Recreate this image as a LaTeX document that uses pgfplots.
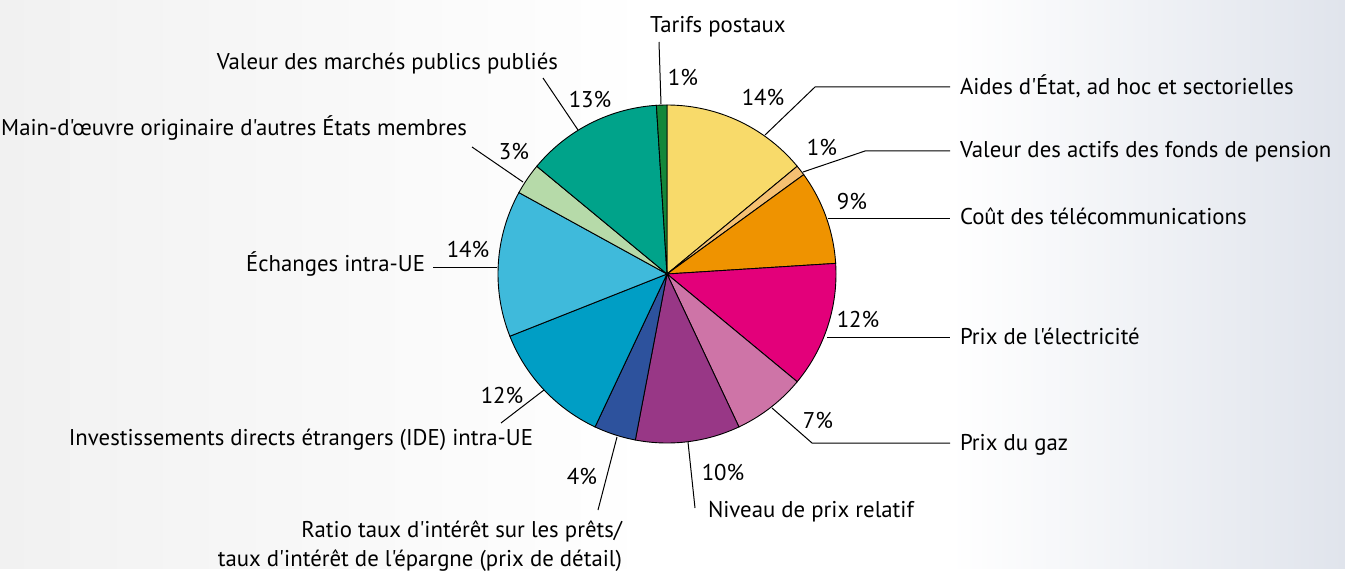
\documentclass[border=0pt]{standalone}
\usepackage{pgfplots}
\pgfplotsset{compat=1.18}
\usepackage{pgfplotstable}
\usepackage{fontspec}
\setmainfont{PT Sans}[Ligatures=TeXOff]

\definecolor{cA}{HTML}{F8DA6A}
\definecolor{cB}{HTML}{F5C072}
\definecolor{cC}{HTML}{EF9300}
\definecolor{cD}{HTML}{E3007A}
\definecolor{cE}{HTML}{CE74A7}
\definecolor{cF}{HTML}{983786}
\definecolor{cG}{HTML}{2D529D}
\definecolor{cH}{HTML}{009EC5}
\definecolor{cI}{HTML}{3FBADB}
\definecolor{cJ}{HTML}{B6DAA9}
\definecolor{cK}{HTML}{00A38A}
\definecolor{cL}{HTML}{13873A}
\definecolor{bgL}{HTML}{F1F1F1}
\definecolor{bgR}{HTML}{E0E4EC}

\tikzset{lbl/.style={font=\fontsize{11.4}{13}\selectfont, inner sep=0pt, outer sep=0pt}}

% shares in %, clockwise from 12 o'clock
\pgfplotstableread{
value col
14 cA
1 cB
9 cC
12 cD
7 cE
10 cF
4 cG
12 cH
14 cI
3 cJ
13 cK
1 cL
}\piedata

\begin{document}
\fontsize{11.4}{13}\selectfont
\begin{tikzpicture}
\begin{axis}[
  scale only axis, width=672.5pt, height=284pt,
  xmin=0, xmax=1345, ymin=0, ymax=568, y dir=reverse,
  hide axis, clip=false,
]
\shade[left color=bgL, right color=white] (0,0) rectangle (650,568);
\fill[white] (649,0) rectangle (951,568);
\shade[left color=white, right color=bgR] (950,0) rectangle (1345,568);

\def\cum{0}
\pgfplotsforeachungrouped \i in {0,...,11}{%
  \pgfplotstablegetelem{\i}{value}\of\piedata
  \let\val\pgfplotsretval
  \pgfplotstablegetelem{\i}{col}\of\piedata
  \let\col\pgfplotsretval
  \pgfmathsetmacro\angA{\cum*3.6}%
  \pgfmathsetmacro\angB{(\cum+\val)*3.6}%
  \pgfmathsetmacro\cum{\cum+\val}%
  \edef\doslice{\noexpand\addplot[draw=black, line width=0.45pt, fill=\col, mark=none, domain=\angA:\angB, samples=61] ({667+169*sin(x)},{274-169*cos(x)}) -- (667,274) -- cycle;}%
  \doslice
}

% leader lines
\draw[line width=0.5pt] (765,135) -- (815,87) -- (950,87);
\draw[line width=0.5pt] (803,172) -- (865,151) -- (950,151);
\draw[line width=0.5pt] (828,218) -- (950,218);
\draw[line width=0.5pt] (827,337) -- (950,337);
\draw[line width=0.5pt] (772,408) -- (812,443) -- (950,443);
\draw[line width=0.5pt] (688,442) -- (695,508);
\draw[line width=0.5pt] (617,437) -- (598,510);
\draw[line width=0.5pt] (544,390) -- (501,423);
\draw[line width=0.5pt] (497,267) -- (433,267);
\draw[line width=0.5pt] (523,182) -- (472,147);
\draw[line width=0.5pt] (578,130) -- (543,78);
\draw[line width=0.5pt] (661,104) -- (659,42);

% category labels
\node[lbl, anchor=base west] at (960,94.5) {Aides d'État, ad hoc et sectorielles};
\node[lbl, anchor=base west] at (960,158) {Valeur des actifs des fonds de pension};
\node[lbl, anchor=base west] at (960,225) {Coût des télécommunications};
\node[lbl, anchor=base west] at (960,344) {Prix de l'électricité};
\node[lbl, anchor=base west] at (960,450) {Prix du gaz};
\node[lbl, anchor=base west] at (708,517) {Niveau de prix relatif};
\node[lbl, anchor=base east] at (622,537) {Ratio taux d'intérêt sur les prêts/};
\node[lbl, anchor=base east] at (622,566) {taux d'intérêt de l'épargne (prix de détail)};
\node[lbl, anchor=base east] at (533,445) {Investissements directs étrangers (IDE) intra-UE};
\node[lbl, anchor=base east] at (425,271.5) {Échanges intra-UE};
\node[lbl, anchor=base east] at (467,136) {Main-d'œuvre originaire d'autres États membres};
\node[lbl, anchor=base east] at (558,70) {Valeur des marchés publics publiés};
\node[lbl, anchor=base west] at (650,33) {Tarifs postaux};

% percentage labels
\node[lbl] at (763,98) {14\%};
\node[lbl] at (822,148) {1\%};
\node[lbl] at (852,202) {9\%};
\node[lbl] at (858,320) {12\%};
\node[lbl] at (818,421) {7\%};
\node[lbl] at (723,473) {10\%};
\node[lbl] at (582,477) {4\%};
\node[lbl] at (502,396) {12\%};
\node[lbl] at (468,250) {14\%};
\node[lbl] at (514,152) {3\%};
\node[lbl] at (590,100) {13\%};
\node[lbl] at (683,78) {1\%};
\end{axis}
\end{tikzpicture}
\end{document}
